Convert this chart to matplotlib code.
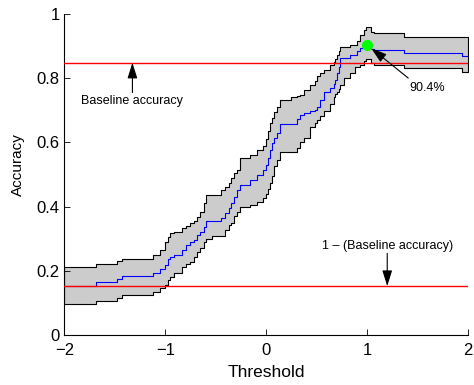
import matplotlib
matplotlib.use('Agg')
import matplotlib.pyplot as plt
import numpy as np

plt.rcParams['font.family'] = ['Liberation Sans', 'DejaVu Sans']

# Step-wise accuracy curve (start threshold of each step)
threshold = [-2.00, -1.69, -1.48, -1.43, -1.12, -1.05, -1.00, -0.97, -0.95, -0.92,
             -0.84, -0.80, -0.755, -0.72, -0.69, -0.655, -0.62, -0.595, -0.54, -0.45,
             -0.41, -0.375, -0.355, -0.325, -0.29, -0.26, -0.16, -0.09, -0.03, 0.00,
             0.02, 0.04, 0.055, 0.08, 0.105, 0.138, 0.24, 0.305, 0.336, 0.37,
             0.436, 0.485, 0.50, 0.535, 0.567, 0.634, 0.667, 0.684, 0.70, 0.716,
             0.733, 0.765, 0.832, 0.88, 0.899, 0.93, 0.97, 0.99, 1.04, 1.07,
             1.36, 1.94]
mean_acc = [0.152, 0.164, 0.174, 0.184, 0.192, 0.205, 0.218, 0.235, 0.244, 0.249,
            0.265, 0.280, 0.288, 0.296, 0.312, 0.322, 0.337, 0.356, 0.356, 0.364,
            0.379, 0.395, 0.410, 0.431, 0.452, 0.467, 0.483, 0.498, 0.514, 0.530,
            0.550, 0.575, 0.597, 0.612, 0.628, 0.657, 0.657, 0.672, 0.685, 0.690,
            0.696, 0.701, 0.710, 0.732, 0.758, 0.769, 0.780, 0.794, 0.815, 0.836,
            0.862, 0.862, 0.872, 0.872, 0.883, 0.893, 0.898, 0.904, 0.892, 0.888,
            0.878, 0.870]
upper_acc = [0.213, 0.221, 0.231, 0.238, 0.249, 0.265, 0.291, 0.305, 0.317, 0.322,
             0.332, 0.340, 0.348, 0.354, 0.366, 0.384, 0.410, 0.436, 0.436, 0.452,
             0.462, 0.473, 0.488, 0.504, 0.514, 0.550, 0.561, 0.575, 0.587, 0.610,
             0.635, 0.660, 0.675, 0.695, 0.710, 0.732, 0.742, 0.745, 0.748, 0.763,
             0.779, 0.790, 0.805, 0.815, 0.826, 0.841, 0.850, 0.860, 0.872, 0.885,
             0.898, 0.898, 0.903, 0.903, 0.914, 0.935, 0.950, 0.958, 0.945, 0.940,
             0.929, 0.927]
lower_acc = [0.097, 0.105, 0.116, 0.125, 0.135, 0.146, 0.156, 0.171, 0.180, 0.193,
             0.213, 0.220, 0.228, 0.244, 0.258, 0.270, 0.291, 0.299, 0.307, 0.307,
             0.327, 0.343, 0.350, 0.369, 0.384, 0.400, 0.405, 0.415, 0.426, 0.440,
             0.455, 0.473, 0.495, 0.525, 0.545, 0.571, 0.571, 0.582, 0.600, 0.613,
             0.649, 0.660, 0.670, 0.683, 0.696, 0.720, 0.742, 0.750, 0.758, 0.765,
             0.779, 0.800, 0.815, 0.836, 0.836, 0.840, 0.852, 0.860, 0.846, 0.841,
             0.831, 0.820]
threshold_end = 2.0

baseline = 0.848
best_threshold = 1.0
best_accuracy = 0.904

x_ticks = [-2, -1, 0, 1, 2]
x_ticklabels = ['\u22122', '\u22121', '0', '1', '2']
y_ticks = [0, 0.2, 0.4, 0.6, 0.8, 1]
y_ticklabels = ['0', '0.2', '0.4', '0.6', '0.8', '1']

x = np.append(threshold, threshold_end)
m = np.append(mean_acc, mean_acc[-1])
up = np.append(upper_acc, upper_acc[-1])
lo = np.append(lower_acc, lower_acc[-1])

fig = plt.figure(figsize=(4.74, 3.85), dpi=100)
ax = fig.add_axes([0.136, 0.130, 0.852, 0.834])

ax.fill_between(x, lo, up, step='post', facecolor=(0.8, 0.8, 0.8),
                edgecolor='k', linewidth=0.8, zorder=1)
ax.plot(x, m, drawstyle='steps-post', color='b', lw=0.8, zorder=2)
ax.axhline(baseline, color='#ff0000', linewidth=1.0, zorder=5)
ax.axhline(1 - baseline, color='#ff0000', linewidth=1.0, zorder=5)
ax.plot(best_threshold, best_accuracy, 'o', color=(0, 1, 0), ms=7, zorder=6)

arrow = dict(arrowstyle='-|>,head_length=0.8,head_width=0.25', color='k',
             lw=0.8, mutation_scale=12, shrinkA=0, shrinkB=0)
ax.annotate('', xy=(-1.327, baseline), xytext=(-1.327, 0.755), arrowprops=arrow,
            zorder=7)
ax.text(-1.333, 0.730, 'Baseline accuracy', ha='center', va='center', fontsize=9)
ax.annotate('', xy=(1.197, 1 - baseline), xytext=(1.197, 0.254), arrowprops=arrow,
            zorder=7)
ax.text(1.197, 0.277, '1 \u2013 (Baseline accuracy)', ha='center', va='center',
        fontsize=9)
ax.annotate('', xy=(1.038, 0.893), xytext=(1.405, 0.800), arrowprops=arrow,
            zorder=7)
ax.text(1.593, 0.768, '90.4%', ha='center', va='center', fontsize=9)

ax.set_xlim(-2, 2)
ax.set_ylim(0, 1)
ax.set_xticks(x_ticks)
ax.set_xticklabels(x_ticklabels)
ax.set_yticks(y_ticks)
ax.set_yticklabels(y_ticklabels)
ax.spines['top'].set_visible(False)
ax.spines['right'].set_visible(False)
for s in ('left', 'bottom'):
    ax.spines[s].set_linewidth(0.8)
ax.tick_params(direction='in', length=4, width=0.6, labelsize=12)
ax.tick_params(axis='x', pad=6)
ax.tick_params(axis='y', pad=3.5)
ax.set_xlabel('Threshold', fontsize=12.5)
ax.set_ylabel('Accuracy', fontsize=11)
ax.xaxis.label.set_va('center')
ax.xaxis.set_label_coords(0.5, -0.118)
ax.yaxis.set_label_coords(-0.098, 0.53)

fig.savefig('out.png', dpi=100)
